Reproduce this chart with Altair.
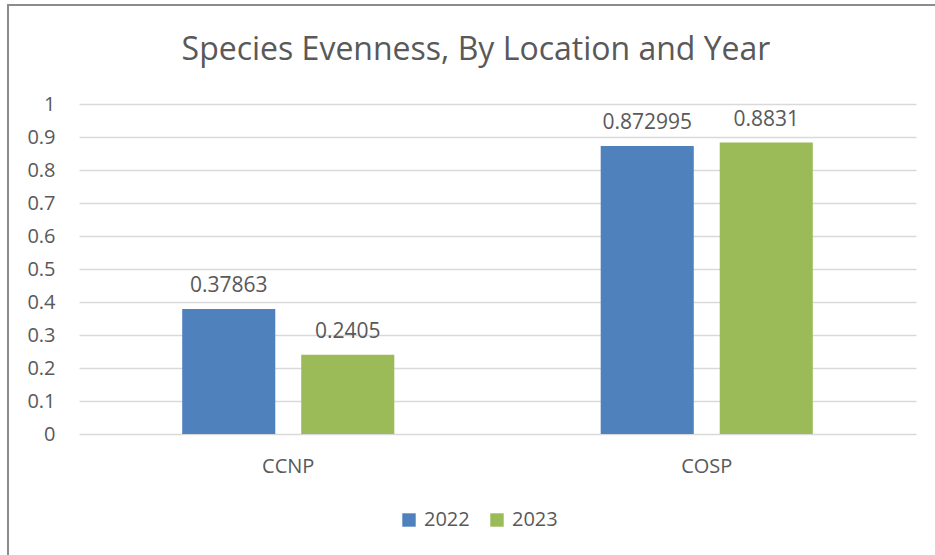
import altair as alt
import pandas as pd

# Species evenness per location and survey year
locations = ["CCNP", "CCNP", "COSP", "COSP"]
years = ["2022", "2023", "2022", "2023"]
evenness = [0.37863, 0.2405, 0.872995, 0.8831]
value_labels = ["0.37863", "0.2405", "0.872995", "0.8831"]

year_order = ["2022", "2023"]
year_colors = ["#4F81BD", "#9BBB59"]
y_ticks = [0, 0.1, 0.2, 0.3, 0.4, 0.5, 0.6, 0.7, 0.8, 0.9, 1]
chart_title = "Species Evenness, By Location and Year"

df = pd.DataFrame({
    "Location": locations,
    "Year": years,
    "Evenness": evenness,
    "Label": value_labels,
})

FONT = "Open Sans"
TEXT = "#595959"
W, H = 837, 330
PAD = {"left": 79, "top": 104, "right": 19, "bottom": 121}

x_enc = alt.X(
    "Location:N",
    title=None,
    scale=alt.Scale(paddingInner=0, paddingOuter=0),
    axis=alt.Axis(labelAngle=0, labelFontSize=20, labelPadding=22, domain=False,
                  ticks=False, labelColor=TEXT, labelFont=FONT, grid=False),
)
xo_enc = alt.XOffset("Year:N", sort=year_order,
                     scale=alt.Scale(paddingInner=0.218, paddingOuter=0.867))
y_enc = alt.Y(
    "Evenness:Q",
    title=None,
    scale=alt.Scale(domain=[0, 1], nice=False),
    axis=alt.Axis(values=y_ticks, format="~g", labelFontSize=20, labelPadding=24,
                  labelOverlap=False, domain=False, ticks=False, labelColor=TEXT,
                  labelFont=FONT, grid=True, gridColor="#D9D9D9", gridWidth=1.3),
)

bars = alt.Chart(df).mark_bar().encode(
    x=x_enc,
    xOffset=xo_enc,
    y=y_enc,
    color=alt.Color(
        "Year:N",
        sort=year_order,
        scale=alt.Scale(domain=year_order, range=year_colors),
        legend=alt.Legend(
            title=None, orient="none", direction="horizontal",
            legendX=320, legendY=406,
            symbolType="square", symbolSize=180, symbolStrokeWidth=0,
            labelFontSize=20, labelFont=FONT, labelColor=TEXT,
            labelOffset=5, columnPadding=17,
        ),
    ),
)

labels = alt.Chart(df).mark_text(
    baseline="alphabetic", dy=-17, fontSize=21, font=FONT, color=TEXT
).encode(
    x=x_enc,
    xOffset=xo_enc,
    y=y_enc,
    text="Label:N",
)

# chart title, drawn as text above the plot area
title = alt.Chart(alt.Data(values=[{"t": chart_title}])).mark_text(
    baseline="alphabetic", align="center", fontSize=32, font=FONT, color=TEXT
).encode(x=alt.value(397), y=alt.value(-44), text="t:N")

# chart frame: left and top edges
frame_left = alt.Chart(alt.Data(values=[{}])).mark_rule(
    color="#8C8C8C", strokeWidth=2
).encode(x=alt.value(-71), y=alt.value(-99), y2=alt.value(460))
frame_top = alt.Chart(alt.Data(values=[{}])).mark_rule(
    color="#8C8C8C", strokeWidth=2
).encode(x=alt.value(-72), x2=alt.value(870), y=alt.value(-99))

chart = alt.layer(bars, labels, title, frame_left, frame_top).properties(
    width=W,
    height=H,
    autosize=alt.AutoSizeParams(type="none"),
    padding=PAD,
    background="white",
).configure_view(stroke=None)

chart.save("out.html", embed_options={"renderer": "svg", "actions": False})
